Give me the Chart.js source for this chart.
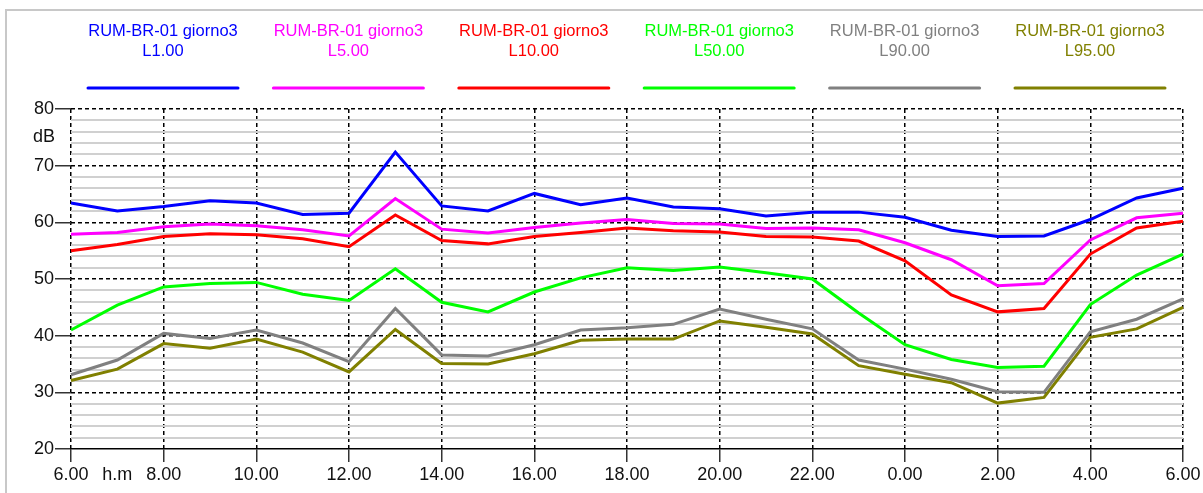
<!DOCTYPE html>
<html>
<head>
<meta charset="utf-8">
<script src="https://cdn.jsdelivr.net/npm/chart.js@4/dist/chart.umd.min.js"></script>
<style>
  html, body { margin: 0; padding: 0; background: #fff; overflow: hidden; }
  #frame { position: absolute; left: 5px; top: 9px; width: 1300px; height: 600px;
           border-left: 2px solid #c8c8c8; border-top: 2px solid #c8c8c8; }
  #chart { position: absolute; left: 0; top: 0; }
</style>
</head>
<body>
<div id="frame"></div>
<canvas id="chart" width="1203" height="493"></canvas>
<script>
const station = 'RUM-BR-01 giorno3';
const seriesNames = ['L1.00', 'L5.00', 'L10.00', 'L50.00', 'L90.00', 'L95.00'];
const seriesColors = ['#0000ff', '#ff00ff', '#ff0000', '#00ff00', '#808080', '#808000'];

// one reading per hour, 6.00 -> 6.00 of the next day
const hours = ['6.00', '7.00', '8.00', '9.00', '10.00', '11.00', '12.00', '13.00', '14.00',
  '15.00', '16.00', '17.00', '18.00', '19.00', '20.00', '21.00', '22.00', '23.00',
  '0.00', '1.00', '2.00', '3.00', '4.00', '5.00', '6.00'];
const unitX = 'h.m';
const unitY = 'dB';

const L1 = [63.4, 62.0, 62.8, 63.8, 63.4, 61.4, 61.6, 72.4, 62.9, 62.0, 65.1, 63.1, 64.3,
  62.7, 62.4, 61.1, 61.8, 61.8, 60.9, 58.6, 57.5, 57.6, 60.5, 64.3, 66.0];
const L5 = [57.9, 58.2, 59.2, 59.7, 59.4, 58.7, 57.6, 64.2, 58.8, 58.1, 59.1, 59.9, 60.5,
  59.8, 59.7, 58.9, 59.0, 58.7, 56.4, 53.4, 48.8, 49.2, 56.9, 60.8, 61.6];
const L10 = [55.0, 56.1, 57.5, 58.0, 57.8, 57.1, 55.7, 61.3, 56.8, 56.2, 57.5, 58.2, 59.0,
  58.5, 58.3, 57.5, 57.4, 56.7, 53.2, 47.2, 44.2, 44.8, 54.4, 59.0, 60.2];
const L50 = [41.0, 45.4, 48.6, 49.2, 49.4, 47.3, 46.2, 51.8, 45.9, 44.2, 47.7, 50.2, 52.0,
  51.5, 52.1, 51.1, 50.0, 44.0, 38.4, 35.8, 34.4, 34.6, 45.5, 50.7, 54.4];
const L90 = [33.1, 35.7, 40.4, 39.5, 41.0, 38.7, 35.4, 44.8, 36.6, 36.4, 38.4, 41.0, 41.4,
  42.0, 44.7, 42.9, 41.2, 35.7, 34.1, 32.3, 30.1, 30.0, 40.7, 42.9, 46.5];
const L95 = [32.1, 34.1, 38.6, 37.8, 39.4, 37.1, 33.6, 41.1, 35.1, 35.0, 36.8, 39.2, 39.4,
  39.4, 42.6, 41.5, 40.3, 34.7, 33.2, 31.7, 28.1, 29.1, 39.7, 41.2, 45.0];

const series = [L1, L5, L10, L50, L90, L95];
const FONT = "'Liberation Sans', Arial, sans-serif";

// two-line captions above a line sample, plus the dB unit on the y axis
const captions = {
  id: 'captions',
  afterDraw(chart) {
    const c = chart.ctx;
    c.save();
    c.font = '16.5px ' + FONT;
    c.textAlign = 'center';
    c.textBaseline = 'middle';
    chart.data.datasets.forEach((ds, i) => {
      const cx = 163 + i * 185.4;
      c.fillStyle = ds.borderColor;
      c.fillText(station, cx, 31);
      c.fillText(ds.label, cx, 51);
      c.strokeStyle = ds.borderColor;
      c.lineWidth = 3;
      c.lineCap = 'round';
      c.beginPath();
      c.moveTo(cx - 75, 88);
      c.lineTo(cx + 75, 88);
      c.stroke();
    });
    const y = chart.scales.y;
    c.font = '18px ' + FONT;
    c.fillStyle = '#111';
    c.textAlign = 'center';
    c.fillText(unitY, 44, y.getPixelForValue(75));
    c.restore();
  }
};

const isMajor = (ctx) => ctx.tick && ctx.tick.value % 10 === 0;

new Chart(document.getElementById('chart'), {
  type: 'line',
  data: {
    labels: hours,
    datasets: series.map((vals, i) => ({
      label: seriesNames[i],
      data: vals,
      borderColor: seriesColors[i],
      backgroundColor: seriesColors[i],
      borderWidth: 3,
      pointRadius: 0,
      tension: 0,
      fill: false
    }))
  },
  options: {
    responsive: false,
    animation: false,
    layout: { padding: { top: 109, right: 20, left: 0, bottom: 0 } },
    plugins: { legend: { display: false }, tooltip: { enabled: false } },
    scales: {
      x: {
        type: 'category',
        offset: false,
        afterFit: (s) => { s.height = 44; },
        ticks: {
          autoSkip: false,
          maxRotation: 0,
          padding: 2,
          color: '#111',
          font: { family: FONT, size: 18 },
          callback: (v, i) => i % 2 === 0 ? hours[i] : (i === 1 ? unitX : '')
        },
        grid: {
          color: (ctx) => ctx.index % 2 === 0 ? '#000' : 'rgba(0,0,0,0)',
          lineWidth: 1.5,
          tickLength: 13,
          tickColor: (ctx) => ctx.index % 2 === 0 ? '#333' : 'rgba(0,0,0,0)',
          tickWidth: 1.5
        },
        border: { display: true, color: '#000', width: 1.5, dash: [4, 3] }
      },
      y: {
        type: 'linear',
        min: 20,
        max: 80,
        afterFit: (s) => { s.width = 71; },
        ticks: {
          stepSize: 2,
          maxTicksLimit: 100,
          autoSkip: false,
          padding: 1,
          color: '#111',
          font: { family: FONT, size: 18 },
          callback: (v) => v % 10 === 0 ? v : ''
        },
        grid: {
          color: (ctx) => {
            if (!ctx.tick) return '#000';
            if (ctx.tick.value === 20) return 'rgba(0,0,0,0)';
            return ctx.tick.value % 10 === 0 ? '#000' : '#d0d0d0';
          },
          lineWidth: (ctx) => isMajor(ctx) ? 1.5 : 2,
          tickLength: 16,
          tickColor: (ctx) => isMajor(ctx) ? '#333' : 'rgba(0,0,0,0)',
          tickWidth: 1.5
        },
        border: { display: false, dash: (ctx) => isMajor(ctx) ? [4, 3] : [] }
      }
    }
  },
  plugins: [captions]
});
</script>
</body>
</html>
